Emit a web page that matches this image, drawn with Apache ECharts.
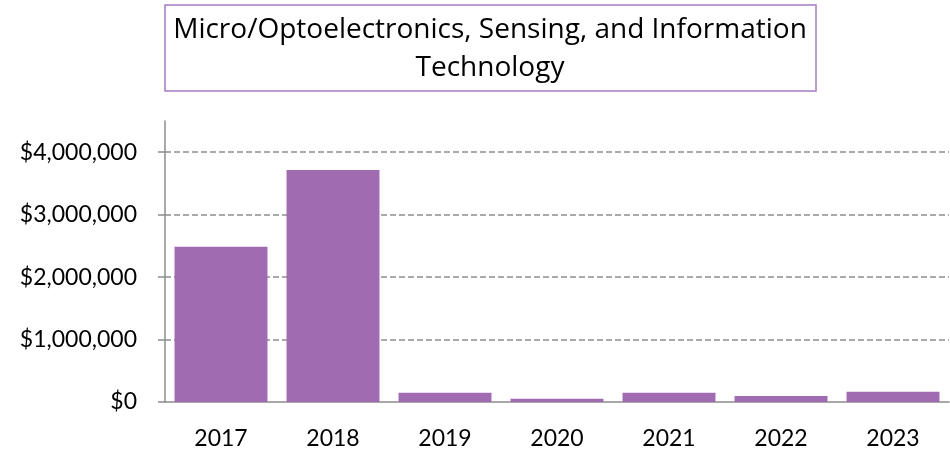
<!DOCTYPE html>
<html style="height: 100%">
 <head>
  <meta charset="utf-8" />
  <script type="text/javascript" src="https://cdn.jsdelivr.net/npm/echarts@6/dist/echarts.min.js"></script>
 </head>
 <body style="height: 100%; margin: 0; background: #fff">
  <div id="main" style="width: 950px; height: 450px;"></div>
  <script type="text/javascript">
   var titleLines = ['Micro/Optoelectronics, Sensing, and Information', 'Technology'];
   var years = ['2017', '2018', '2019', '2020', '2021', '2022', '2023'];
   var funding = [2485000, 3717000, 149000, 53000, 149000, 98000, 165000];
   var yTicks = [0, 1000000, 2000000, 3000000, 4000000];

   var myChart = echarts.init(document.getElementById('main'));
   var fontName = 'Lato';
   var option = {
     animation: false,
     title: {
       text: titleLines.join('\n'),
       left: 490,
       top: 11,
       padding: 0,
       textAlign: 'center',
       textStyle: {
         fontFamily: 'Open Sans',
         fontSize: 28,
         fontWeight: 'normal',
         color: '#000',
         lineHeight: 38
       }
     },
     graphic: [{
       type: 'rect',
       shape: { x: 165, y: 5, width: 651, height: 86 },
       style: { fill: 'none', stroke: '#a97bbf', lineWidth: 1.5 }
     }],
     grid: {
       left: 165,
       right: 1,
       top: 121,
       bottom: 48,
       containLabel: false
     },
     xAxis: {
       type: 'category',
       data: years,
       axisLine: { lineStyle: { color: '#8c8c8c', width: 1.5 } },
       axisTick: { length: 7, lineStyle: { color: '#8c8c8c', width: 1.5 } },
       axisLabel: { margin: 25, fontFamily: fontName, fontSize: 23, color: '#000' }
     },
     yAxis: {
       type: 'value',
       min: 0,
       max: 4500000,
       interval: 1000000,
       axisLine: { show: true, lineStyle: { color: '#8c8c8c', width: 1.5 } },
       axisTick: { show: true, length: 7, customValues: yTicks, lineStyle: { color: '#8c8c8c', width: 1.5 } },
       axisLabel: {
         customValues: yTicks,
         margin: 28,
         fontFamily: fontName,
         fontSize: 23,
         color: '#000',
         formatter: function (v) { return '$' + v.toLocaleString('en-US'); }
       },
       splitLine: {
         show: true,
         showMinLine: false,
         showMaxLine: true,
         lineStyle: { color: '#8f8f8f', width: 1.5, type: [6, 3] }
       }
     },
     series: [{
       type: 'bar',
       data: funding,
       barCategoryGap: '17%',
       itemStyle: { color: '#a06bb0' }
     }]
   };
   myChart.setOption(option);
  </script>
 </body>
</html>
